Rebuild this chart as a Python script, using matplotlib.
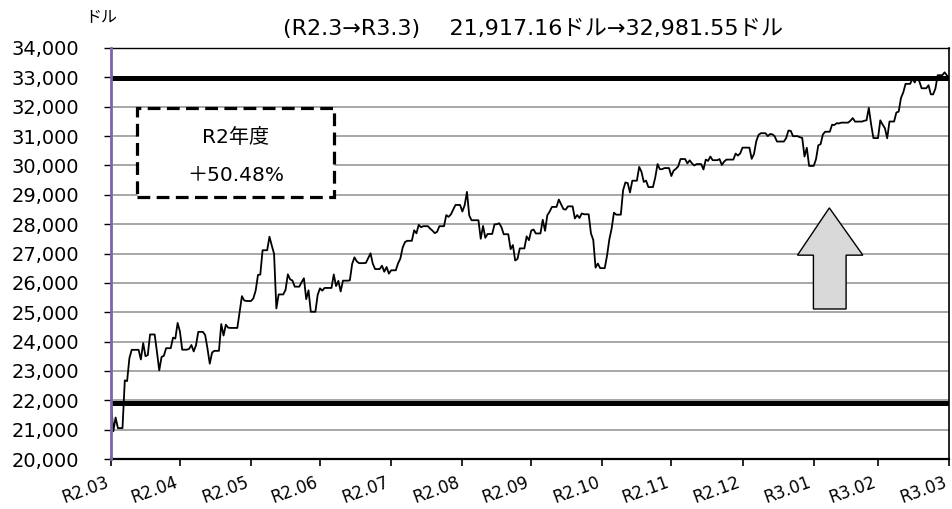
import pandas as pd
import matplotlib
matplotlib.use("Agg")
import matplotlib.pyplot as plt
from matplotlib.patches import Rectangle, Polygon
from matplotlib.ticker import FuncFormatter

plt.rcParams['font.family'] = ['DejaVu Sans', 'Noto Sans CJK JP']

#%% Data #####################################################################
# Dow closes (ドル) by trading day, month by month
apr20_days = [1, 2, 3, 6, 7, 8, 9, 13, 14, 15, 16, 17, 20, 21, 22, 23, 24, 27, 28, 29, 30]
apr20 = [20944, 21413, 21053, 22680, 22654, 23434, 23719, 23391, 23950, 23504, 23538,
         24242, 23650, 23019, 23476, 23515, 23775, 24134, 24102, 24634, 24346]
may20_days = [1, 4, 5, 6, 7, 8, 11, 12, 13, 14, 15, 18, 19, 20, 21, 22, 26, 27, 28, 29]
may20 = [23724, 23750, 23883, 23664, 23875, 24331, 24221, 23764, 23248, 23625, 23685,
         24597, 24207, 24575, 24474, 24465, 24995, 25548, 25400, 25383]
jun20_days = [1, 2, 3, 4, 5, 8, 9, 10, 11, 12, 15, 16, 17, 18, 19, 22, 23, 24, 25, 26, 29, 30]
jun20 = [25475, 25742, 26270, 26282, 27111, 27572, 27272, 26990, 25128, 25606, 25763,
         26290, 26120, 26080, 25871, 26025, 26156, 25446, 25746, 25016, 25596, 25813]
jul20_days = [1, 2, 6, 7, 8, 9, 10, 13, 14, 15, 16, 17, 20, 21, 22, 23, 24, 27, 28, 29, 30, 31]
jul20 = [25735, 25827, 26287, 25890, 26067, 25706, 26075, 26086, 26643, 26870, 26735,
         26672, 26681, 26840, 27006, 26652, 26470, 26585, 26379, 26540, 26314, 26428]
aug20_days = [3, 4, 5, 6, 7, 10, 11, 12, 13, 14, 17, 18, 19, 20, 21, 24, 25, 26, 27, 28, 31]
aug20 = [26664, 26828, 27202, 27387, 27433, 27791, 27687, 27977, 27897, 27931, 27845,
         27778, 27693, 27740, 27930, 28308, 28248, 28332, 28492, 28654, 28430]
sep20_days = [1, 2, 3, 4, 8, 9, 10, 11, 14, 15, 16, 17, 18, 21, 22, 23, 24, 25, 28, 29, 30]
sep20 = [28646, 29100, 28293, 28133, 27501, 27940, 27535, 27666, 27993, 27996, 28032,
         27902, 27657, 27148, 27288, 26763, 26815, 27174, 27584, 27453, 27782]
oct20_days = [1, 2, 5, 6, 7, 8, 9, 12, 13, 14, 15, 16, 19, 20, 21, 22, 23, 26, 27, 28, 29, 30]
oct20 = [27817, 27683, 28149, 27773, 28303, 28426, 28587, 28838, 28680, 28514, 28494,
         28606, 28195, 28309, 28211, 28364, 28336, 27685, 27463, 26520, 26659, 26502]
nov20_days = [2, 3, 4, 5, 6, 9, 10, 11, 12, 13, 16, 17, 18, 19, 20, 23, 24, 25, 27, 30]
nov20 = [26925, 27480, 27848, 28390, 28323, 29158, 29421, 29398, 29080, 29480, 29950,
         29783, 29438, 29483, 29263, 29591, 30046, 29872, 29910, 29639]
dec20_days = [1, 2, 3, 4, 7, 8, 9, 10, 11, 14, 15, 16, 17, 18, 21, 22, 23, 24, 28, 29, 30, 31]
dec20 = [29824, 29884, 29970, 30218, 30070, 30174, 30069, 29999, 30046, 29862, 30200,
         30155, 30303, 30179, 30216, 30016, 30130, 30199, 30404, 30336, 30410, 30606]
jan21_days = [4, 5, 6, 7, 8, 11, 12, 13, 14, 15, 19, 20, 21, 22, 25, 26, 27, 28, 29]
jan21 = [30224, 30392, 30829, 31041, 31098, 30998, 31069, 31060, 30992, 30814, 30931,
         31188, 31176, 30997, 30960, 30937, 30303, 30603, 29983]
feb21_days = [1, 2, 3, 4, 5, 8, 9, 10, 11, 12, 16, 17, 18, 19, 22, 23, 24, 25, 26]
feb21 = [30212, 30687, 30724, 31056, 31148, 31386, 31376, 31438, 31431, 31458, 31523,
         31613, 31493, 31494, 31522, 31537, 31962, 31402, 30932]
mar21_days = [1, 2, 3, 4, 5, 8, 9, 10, 11, 12, 15, 16, 17, 18, 19, 22, 23, 24, 25, 26, 29, 30, 31]
mar21 = [31536, 31392, 31270, 30924, 31496, 31802, 31833, 32297, 32486, 32779, 32953,
         32826, 33015, 32862, 32628, 32731, 32423, 32420, 32619, 33073, 33171, 33067, 32982]

start_value = 21917.16   # R2.3
end_value = 32981.55     # R3.3
tick_labels = ["R2.03", "R2.04", "R2.05", "R2.06", "R2.07", "R2.08", "R2.09",
               "R2.10", "R2.11", "R2.12", "R3.01", "R3.02", "R3.03"]
title = "(R2.3→R3.3)\u3000 21,917.16ドル→32,981.55ドル"
box_title = "R2年度"
box_value = "＋50.48%"

#%% Build series #############################################################
months = [("2020-04", apr20_days, apr20), ("2020-05", may20_days, may20),
          ("2020-06", jun20_days, jun20), ("2020-07", jul20_days, jul20),
          ("2020-08", aug20_days, aug20), ("2020-09", sep20_days, sep20),
          ("2020-10", oct20_days, oct20), ("2020-11", nov20_days, nov20),
          ("2020-12", dec20_days, dec20), ("2021-01", jan21_days, jan21),
          ("2021-02", feb21_days, feb21), ("2021-03", mar21_days, mar21)]
dates = [pd.Timestamp("2020-03-31")]
values = [start_value]
for ym, days, vals in months:
    dates += [pd.Timestamp(f"{ym}-{d:02d}") for d in days]
    values += vals
s = pd.Series(values, index=dates)
# closed days keep the previous close (calendar-day series)
s = s.reindex(pd.date_range(dates[0], dates[-1], freq="D")).ffill()

#%% Plot #####################################################################
fig = plt.figure(figsize=(9.53, 5.09), dpi=100)
ax = fig.add_axes([0.1165, 0.0982, 0.8795, 0.8075])

ax.set_ylim(20000, 34000)
ax.set_yticks(range(20000, 34001, 1000))
ax.yaxis.set_major_formatter(FuncFormatter(lambda v, p: f"{int(v):,}"))
ax.grid(axis="y", color="#a0a0a0", lw=1.3, zorder=0)
ax.set_axisbelow(True)

ax.axhline(start_value, color="black", lw=3.6, zorder=2)
ax.axhline(end_value, color="black", lw=3.6, zorder=2)
ax.plot(s.index, s.values, color="black", lw=1.3, zorder=3)

xt = pd.date_range("2020-03-31", "2021-03-31", freq="ME")
ax.set_xlim(xt[0], xt[-1])
ax.set_xticks(xt)
ax.set_xticklabels(tick_labels, rotation=20, ha="right", va="top", fontsize=12)
ax.tick_params(axis="y", labelsize=14, length=5, width=1, direction="out", pad=18)
ax.tick_params(axis="x", length=5, width=1.2, direction="out", pad=5)

for side in ["top", "right", "bottom"]:
    ax.spines[side].set_color("black")
ax.spines["top"].set_linewidth(1.0)
ax.spines["right"].set_linewidth(1.2)
ax.spines["bottom"].set_linewidth(1.6)
ax.spines["left"].set_color("#7f63a8")
ax.spines["left"].set_linewidth(2.0)
ax.spines["left"].set_zorder(5)

# dashed box
ax.add_patch(Rectangle((0.031, 0.637), 0.235, 0.217, transform=ax.transAxes,
                       facecolor="white", edgecolor="black", lw=2.3,
                       linestyle=(0, (4, 2)), zorder=4))
ax.text(0.149, 0.783, box_title, transform=ax.transAxes, ha="center", va="center",
        fontsize=14.5, zorder=5)
ax.text(0.149, 0.691, box_value, transform=ax.transAxes, ha="center", va="center",
        fontsize=14.5, zorder=5)

# up arrow
arrow = [(0.857, 0.611), (0.897, 0.496), (0.877, 0.496), (0.877, 0.365),
         (0.838, 0.365), (0.838, 0.496), (0.819, 0.496)]
ax.add_patch(Polygon(arrow, closed=True, transform=ax.transAxes,
                     facecolor="#d9d9d9", edgecolor="black", lw=1.0, zorder=4))

fig.text(0.559, 0.944, title, ha="center", va="center", fontsize=16)
fig.text(0.106, 0.966, "ドル", ha="center", va="center", fontsize=11.5)

fig.savefig("out.png", dpi=100)
